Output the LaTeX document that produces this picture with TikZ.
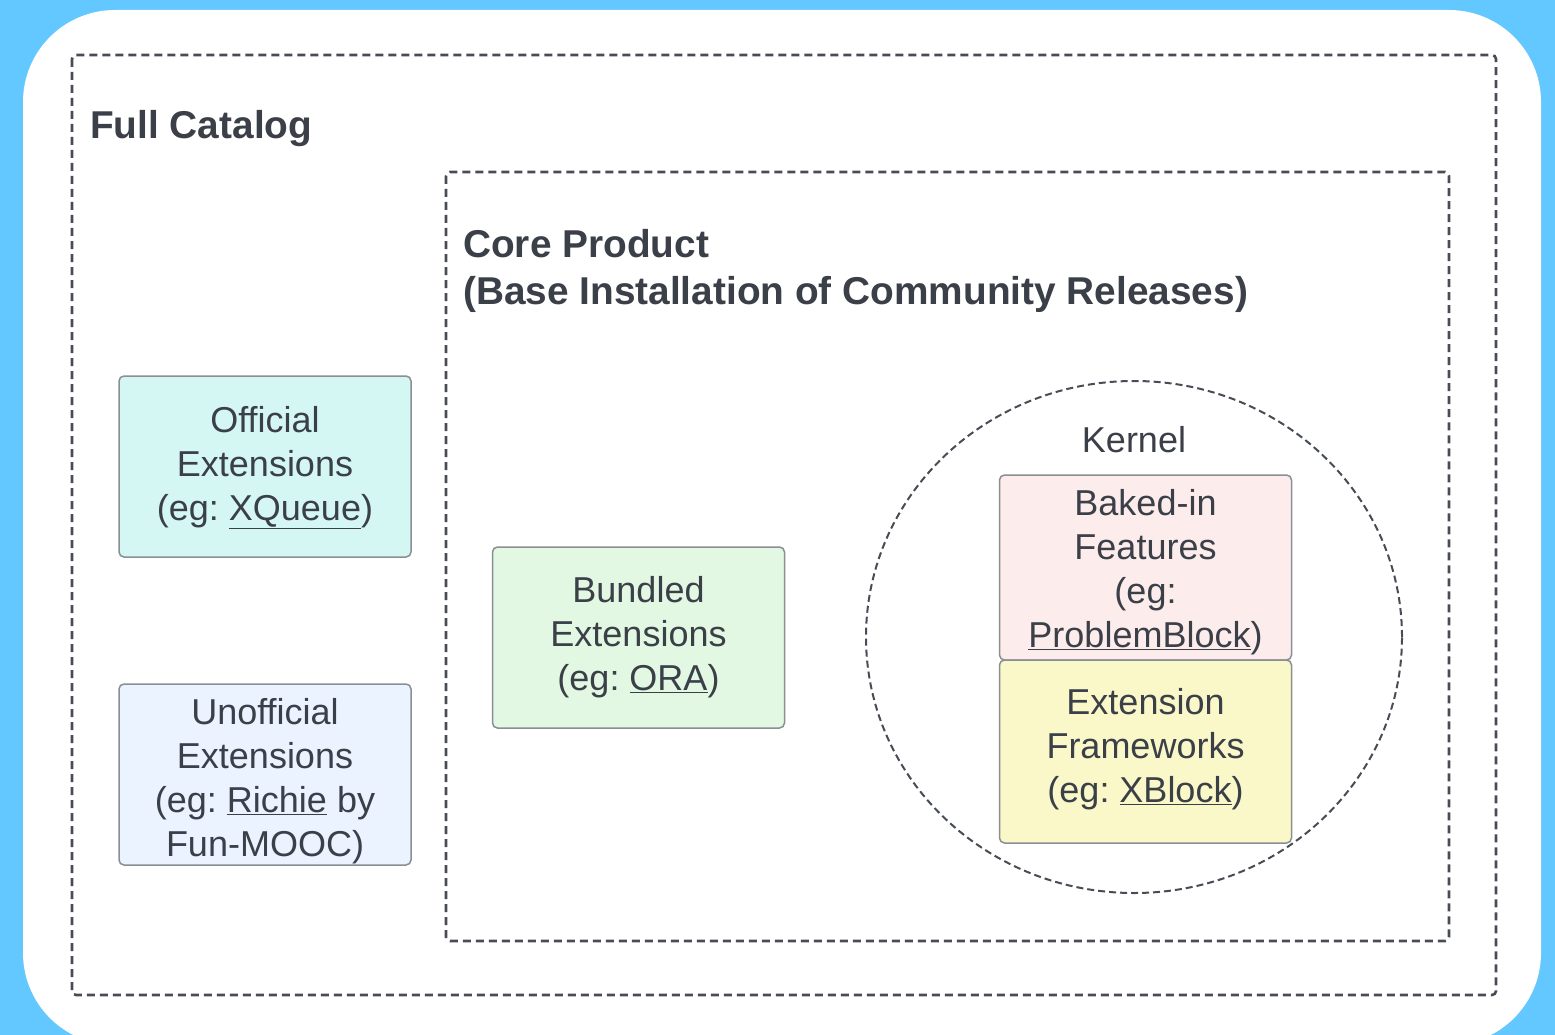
\documentclass[tikz,border=0pt]{standalone}
\usepackage{fontspec}
\setmainfont{Liberation Sans}
\frenchspacing
\definecolor{bgblue}{RGB}{98,200,255}
\definecolor{txtc}{RGB}{58,63,72}
\definecolor{dashc}{RGB}{72,77,85}
\definecolor{boxc}{RGB}{138,143,148}
\definecolor{offc}{RGB}{212,247,243}
\definecolor{unoffc}{RGB}{234,243,255}
\definecolor{bundc}{RGB}{226,248,226}
\definecolor{bakedc}{RGB}{253,236,236}
\definecolor{extfc}{RGB}{250,248,200}
\begin{document}
\begin{tikzpicture}[x=1pt,y=-1pt,
  bodytxt/.style={text=txtc, font=\fontsize{36}{44}\selectfont\frenchspacing, align=center},
  titletxt/.style={text=txtc, font=\fontsize{38.8}{47}\selectfont\bfseries, align=left, inner sep=0pt},
  extbox/.style={draw=boxc, line width=1.5pt, rounded corners=5pt, minimum width=292pt, inner sep=0pt},
  groupbox/.style={draw=dashc, line width=2.6pt, dash pattern=on 8pt off 5pt, rounded corners=4pt},
  kernelring/.style={draw=dashc, line width=2pt, dash pattern=on 7pt off 4pt}
]
\useasboundingbox (0,0) rectangle (1555,1035);
\fill[bgblue] (0,0) rectangle (1555,1035);
\fill[white, rounded corners=92pt] (23,10) rectangle (1541,1045);

% Full catalog
\draw[groupbox] (72,55) rectangle (1496,995);
\node[titletxt, anchor=base west] (fullcat) at (90,139) {Full Catalog};

% Core product
\draw[groupbox] (446,172) rectangle (1449,941);
\node[titletxt, anchor=north west] (core) at (463,229) {Core Product\\(Base Installation of Community Releases)};

% Kernel
\draw[kernelring] (1134,637) ellipse [x radius=268pt, y radius=256pt];
\node[bodytxt, anchor=base] (kernel) at (1134,452) {Kernel};

% Boxes
\node[extbox, fill=offc, minimum height=181pt] (official) at (265,466.5) {};
\node[bodytxt] (officialtxt) at ([yshift=-1pt]official.center)
  {Official\\Extensions\\(eg: \underline{XQueue})};
\node[extbox, fill=unoffc, minimum height=181pt] (unofficial) at (265,774.5) {};
\node[bodytxt] (unofficialtxt) at ([yshift=-7pt]unofficial.center)
  {Unofficial\\Extensions\\(eg: \underline{Richie} by\\Fun-MOOC)};
\node[extbox, fill=bundc, minimum height=181pt] (bundled) at (638.5,637.5) {};
\node[bodytxt] (bundledtxt) at (bundled.center)
  {Bundled\\Extensions\\(eg: \underline{ORA})};
\node[extbox, fill=bakedc, minimum height=185pt] (baked) at (1145.5,567.5) {};
\node[bodytxt] (bakedtxt) at ([yshift=-5pt]baked.center)
  {Baked-in\\Features\\(eg:\\\underline{ProblemBlock})};
\node[extbox, fill=extfc, minimum height=183pt] (extfw) at (1145.5,751.5) {};
\node[bodytxt] (extfwtxt) at ([yshift=2pt]extfw.center)
  {Extension\\Frameworks\\(eg: \underline{XBlock})};
\end{tikzpicture}
\end{document}
